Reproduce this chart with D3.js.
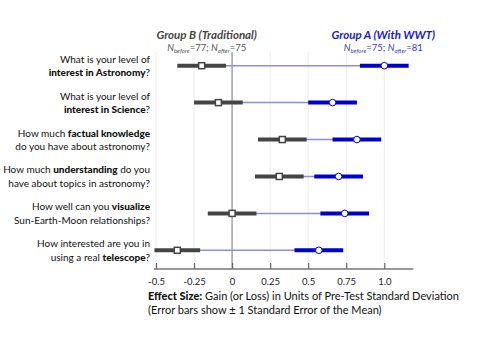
<!DOCTYPE html>
<html>
<head>
<meta charset="utf-8">
<script src="https://cdn.jsdelivr.net/npm/d3@7"></script>
<style>
  body { margin: 0; background: #fff; }
  svg { font-family: Lato, "Open Sans", sans-serif; }
</style>
</head>
<body>
<div id="chart"></div>
<script>
// question labels, each line is a list of [text, bold] pieces
var questions = [
  [[["What is your level of", 0]], [["interest in Astronomy", 1], ["?", 0]]],
  [[["What is your level of", 0]], [["interest in Science", 1], ["?", 0]]],
  [[["How much ", 0], ["factual knowledge", 1]], [["do you have about astronomy?", 0]]],
  [[["How much ", 0], ["understanding", 1], [" do you", 0]], [["have about topics in astronomy?", 0]]],
  [[["How well can you ", 0], ["visualize", 1]], [["Sun-Earth-Moon relationships?", 0]]],
  [[["How interested are you in", 0]], [["using a real ", 0], ["telescope", 1], ["?", 0]]]
];

// Group B (Traditional) effect sizes and standard errors
var groupB = [-0.20, -0.09, 0.33, 0.31, 0.00, -0.36];
var groupBse = [0.16, 0.16, 0.16, 0.16, 0.16, 0.15];

// Group A (With WWT)
var groupA = [1.00, 0.66, 0.82, 0.70, 0.74, 0.57];
var groupAse = [0.16, 0.16, 0.16, 0.16, 0.16, 0.16];

var tickValues = [-0.5, -0.25, 0, 0.25, 0.5, 0.75, 1.0];
var tickLabels = ["-0.5", "-0.25", "0", "0.25", "0.5", "0.75", "1.0"];

var width = 498, height = 337;
var grey = "#444", blue = "#0000cc", lightBlue = "#8a8af0";

var svg = d3.select("#chart").append("svg")
  .attr("width", width)
  .attr("height", height);

var x = d3.scaleLinear().domain([-0.5, 1.0]).range([156, 384.3]);
var y = d3.scalePoint().domain(d3.range(questions.length)).range([65.7, 250.3]);
var axisY = 269, gridTop = 52;

// grid lines
svg.append("g").selectAll("line")
  .data(tickValues)
  .enter().append("line")
    .attr("x1", function(d) { return x(d); })
    .attr("x2", function(d) { return x(d); })
    .attr("y1", gridTop)
    .attr("y2", axisY)
    .attr("stroke", function(d) { return d == 0 ? "#a8a8a8" : "#ececec"; })
    .attr("stroke-width", function(d) { return d == 0 ? 1.6 : 1; });

// x axis
var axis = svg.append("g")
  .attr("transform", "translate(0," + axisY + ")")
  .call(d3.axisBottom(x).tickValues(tickValues)
    .tickFormat(function(d, i) { return tickLabels[i]; })
    .tickSize(-6).tickSizeOuter(0).tickPadding(9.5));
axis.select(".domain").remove();
axis.selectAll(".tick line").attr("stroke", "#666").attr("stroke-width", 1.2);
axis.selectAll(".tick text").attr("fill", "#222").style("font-size", "9.5px")
  .style("font-family", "Lato, sans-serif");
axis.append("line")
  .attr("x1", x.range()[0] - 2).attr("x2", x.range()[1] + 29)
  .attr("stroke", "#777").attr("stroke-width", 1.5);

// connecting lines between groups
var rows = d3.range(questions.length);
svg.append("g").selectAll("line")
  .data(rows)
  .enter().append("line")
    .attr("x1", function(i) { return x(groupB[i]); })
    .attr("x2", function(i) { return x(groupA[i]); })
    .attr("y1", function(i) { return y(i); })
    .attr("y2", function(i) { return y(i); })
    .attr("stroke", lightBlue)
    .attr("stroke-width", 1.5);

// error bars
function bars(vals, se, color) {
  svg.append("g").selectAll("line")
    .data(rows)
    .enter().append("line")
      .attr("x1", function(i) { return x(vals[i] - se[i]); })
      .attr("x2", function(i) { return x(vals[i] + se[i]); })
      .attr("y1", function(i) { return y(i); })
      .attr("y2", function(i) { return y(i); })
      .attr("stroke", color)
      .attr("stroke-width", 4);
}
bars(groupB, groupBse, grey);
bars(groupA, groupAse, blue);

// markers
svg.append("g").selectAll("rect")
  .data(rows)
  .enter().append("rect")
    .attr("x", function(i) { return x(groupB[i]) - 3; })
    .attr("y", function(i) { return y(i) - 3; })
    .attr("width", 6).attr("height", 6)
    .attr("fill", "#fff").attr("stroke", grey).attr("stroke-width", 1.5);

svg.append("g").selectAll("circle")
  .data(rows)
  .enter().append("circle")
    .attr("cx", function(i) { return x(groupA[i]); })
    .attr("cy", function(i) { return y(i); })
    .attr("r", 3.3)
    .attr("fill", "#fff").attr("stroke", blue).attr("stroke-width", 1);

// question labels
var labels = svg.append("g").selectAll("text")
  .data(questions)
  .enter().append("text")
    .attr("text-anchor", "end")
    .style("font-size", "10px")
    .attr("fill", "#111");
labels.each(function(q, i) {
  var t = d3.select(this);
  q.forEach(function(line, li) {
    line.forEach(function(piece, pi) {
      var ts = t.append("tspan").text(piece[0])
        .style("font-weight", piece[1] ? "900" : "normal");
      if (pi == 0) ts.attr("x", 150).attr("y", y(i) + (li == 0 ? -3 : 10.5));
    });
  });
});

// group headers
function header(cx, title, color, nb, na, subColor) {
  svg.append("text")
    .attr("x", cx).attr("y", 39)
    .attr("text-anchor", "middle")
    .style("font-size", "11.5px").style("font-weight", "bold").style("font-style", "italic")
    .attr("fill", color)
    .text(title);
  var s = svg.append("text")
    .attr("x", cx).attr("y", 51)
    .attr("text-anchor", "middle")
    .style("font-size", "9.5px")
    .attr("fill", subColor);
  s.append("tspan").style("font-style", "italic").text("N");
  s.append("tspan").style("font-style", "italic").style("font-size", "6px").attr("dy", 2).text("before");
  s.append("tspan").attr("dy", -2).text("=" + nb + "; ");
  s.append("tspan").style("font-style", "italic").text("N");
  s.append("tspan").style("font-style", "italic").style("font-size", "6px").attr("dy", 2).text("after");
  s.append("tspan").attr("dy", -2).text("=" + na);
}
header(206.7, "Group B (Traditional)", "#444", 77, 75, "#555");
header(383.3, "Group A (With WWT)", "#1a1acc", 75, 81, "#3a3acc");

// x axis title
var xt = svg.append("text")
  .attr("x", 148).attr("y", 300)
  .style("font-size", "11px").attr("fill", "#111");
xt.append("tspan").style("font-weight", "900").text("Effect Size:");
xt.append("tspan").text(" Gain (or Loss) in Units of Pre-Test Standard Deviation");
svg.append("text")
  .attr("x", 148).attr("y", 314)
  .style("font-size", "11px").attr("fill", "#111")
  .text("(Error bars show \u00b1 1 Standard Error of the Mean)");
</script>
</body>
</html>
